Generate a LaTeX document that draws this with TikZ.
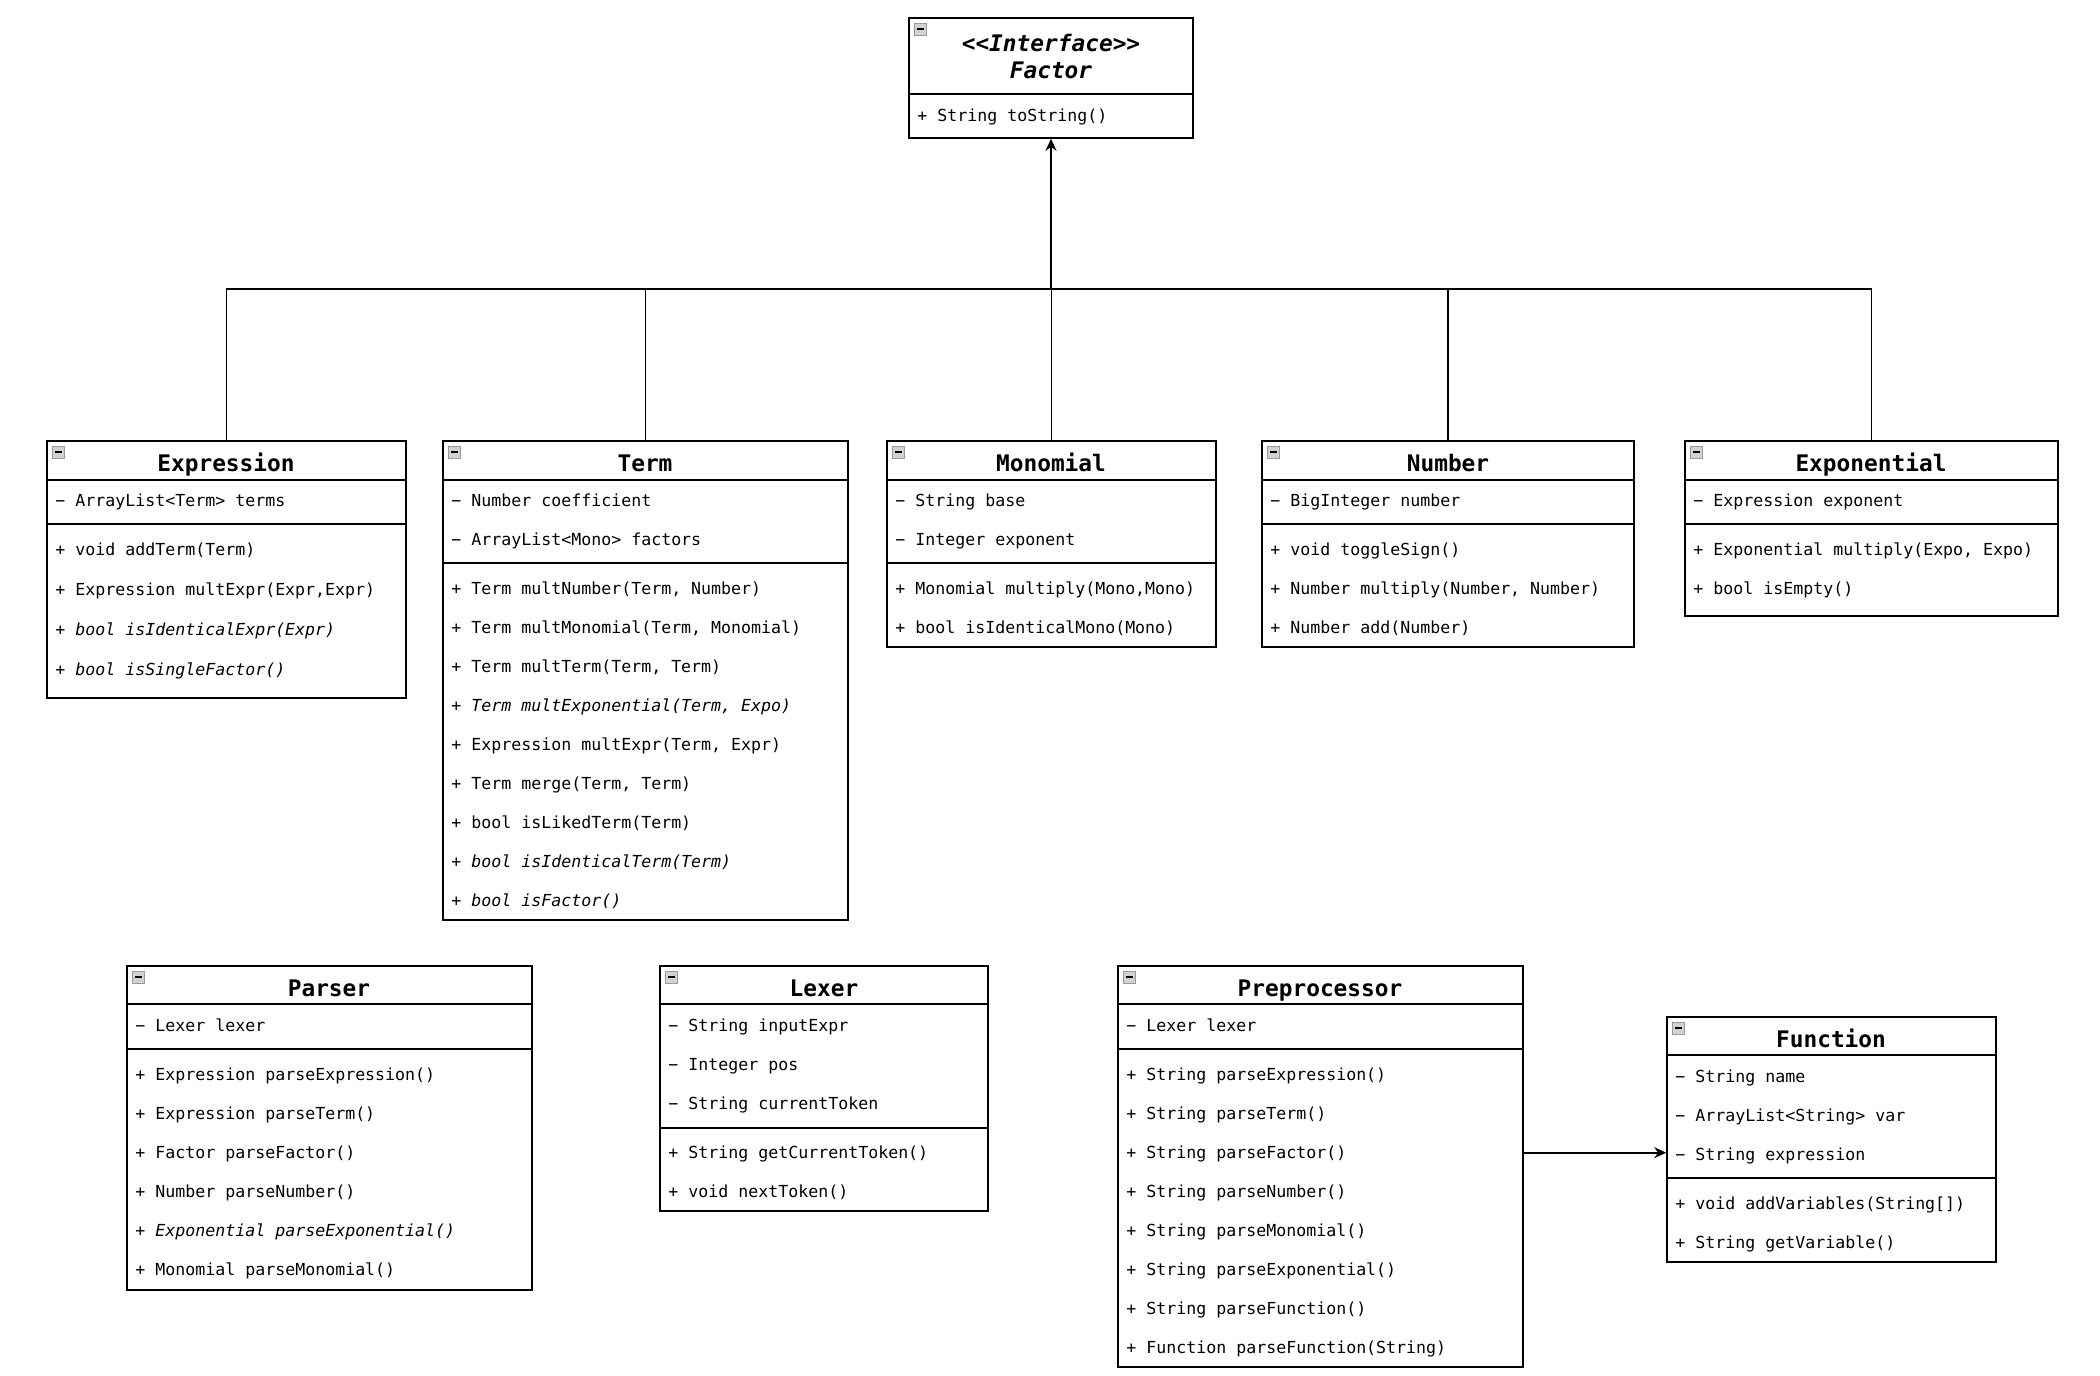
\documentclass[tikz,border=0pt]{standalone}
\usepackage{fontspec}
\setmonofont{DejaVu Sans Mono}
\usetikzlibrary{fit, arrows.meta}

\tikzset{
  classbox/.style={draw, line width=0.8pt, inner sep=0pt},
  classname/.style={font=\ttfamily\fontsize{11.4}{13}\selectfont\bfseries, anchor=base, inner sep=0pt},
  member/.style={font=\ttfamily\fontsize{8.3}{10}\selectfont, anchor=base west, inner sep=0pt},
  divider/.style={line width=0.8pt},
  link/.style={line width=0.9pt},
  inherit/.style={link, -{Stealth[length=6pt,width=5.5pt]}},
}

\begin{document}
\begin{tikzpicture}[x=0.5pt, y=-0.5pt]
    \path[fill=white] (0,0) rectangle (2100,1376);
    \useasboundingbox (0,0) rectangle (2100,1376);

    % Factor (interface, top)
    \node[classbox, fit={(909,18) (1193,138)}] (factor) {};
    \node[classname, font=\ttfamily\fontsize{11.4}{13}\selectfont\bfseries\itshape] (factor-stereo) at (1051,51) {<<Interface>>};
    \node[classname, font=\ttfamily\fontsize{11.4}{13}\selectfont\bfseries\itshape] (factor-name) at (1051,78) {Factor};
    \draw[divider] (909,94) -- (1193,94);
    \node[member] (factor-m1) at (917,121) {+ String toString()};

    % Expression
    \node[classbox, fit={(47,441) (406,698)}] (expr) {};
    \node[classname] (expr-name) at (226,471) {Expression};
    \draw[divider] (47,480) -- (406,480) (47,524) -- (406,524);
    \node[member] (expr-a1) at (55,506) {− ArrayList<Term> terms};
    \foreach \m [count=\i] in {{+ void addTerm(Term)}, {+ Expression multExpr(Expr,Expr)},
        {\itshape + bool isIdenticalExpr(Expr)}, {\itshape + bool isSingleFactor()}}
      \node[member] (expr-m\i) at (55,{555+40*(\i-1)}) {\m};

    % Term
    \node[classbox, fit={(443,441) (848,920)}] (term) {};
    \node[classname] (term-name) at (645,471) {Term};
    \draw[divider] (443,480) -- (848,480) (443,563) -- (848,563);
    \foreach \a [count=\i] in {{− Number coefficient}, {− ArrayList<Mono> factors}}
      \node[member] (term-a\i) at (451,{506+39*(\i-1)}) {\a};
    \foreach \m [count=\i] in {{+ Term multNumber(Term, Number)}, {+ Term multMonomial(Term, Monomial)},
        {+ Term multTerm(Term, Term)}, {\itshape + Term multExponential(Term, Expo)},
        {+ Expression multExpr(Term, Expr)}, {+ Term merge(Term, Term)}, {+ bool isLikedTerm(Term)},
        {\itshape + bool isIdenticalTerm(Term)}, {\itshape + bool isFactor()}}
      \node[member] (term-m\i) at (451,{594+39*(\i-1)}) {\m};

    % Monomial
    \node[classbox, fit={(887,441) (1216,647)}] (mono) {};
    \node[classname] (mono-name) at (1051,471) {Monomial};
    \draw[divider] (887,480) -- (1216,480) (887,563) -- (1216,563);
    \foreach \a [count=\i] in {{− String base}, {− Integer exponent}}
      \node[member] (mono-a\i) at (895,{506+39*(\i-1)}) {\a};
    \foreach \m [count=\i] in {{+ Monomial multiply(Mono,Mono)}, {+ bool isIdenticalMono(Mono)}}
      \node[member] (mono-m\i) at (895,{594+39*(\i-1)}) {\m};

    % Number
    \node[classbox, fit={(1262,441) (1634,647)}] (num) {};
    \node[classname] (num-name) at (1448,471) {Number};
    \draw[divider] (1262,480) -- (1634,480) (1262,524) -- (1634,524);
    \node[member] (num-a1) at (1270,506) {− BigInteger number};
    \foreach \m [count=\i] in {{+ void toggleSign()}, {+ Number multiply(Number, Number)}, {+ Number add(Number)}}
      \node[member] (num-m\i) at (1270,{555+39*(\i-1)}) {\m};

    % Exponential
    \node[classbox, fit={(1685,441) (2058,616)}] (expo) {};
    \node[classname] (expo-name) at (1871,471) {Exponential};
    \draw[divider] (1685,480) -- (2058,480) (1685,524) -- (2058,524);
    \node[member] (expo-a1) at (1693,506) {− Expression exponent};
    \foreach \m [count=\i] in {{+ Exponential multiply(Expo, Expo)}, {+ bool isEmpty()}}
      \node[member] (expo-m\i) at (1693,{555+39*(\i-1)}) {\m};

    % Parser
    \node[classbox, fit={(127,966) (532,1290)}] (parser) {};
    \node[classname] (parser-name) at (329,996) {Parser};
    \draw[divider] (127,1004) -- (532,1004) (127,1049) -- (532,1049);
    \node[member] (parser-a1) at (135,1031) {− Lexer lexer};
    \foreach \m [count=\i] in {{+ Expression parseExpression()}, {+ Expression parseTerm()},
        {+ Factor parseFactor()}, {+ Number parseNumber()},
        {\itshape + Exponential parseExponential()}, {+ Monomial parseMonomial()}}
      \node[member] (parser-m\i) at (135,{1080+39*(\i-1)}) {\m};

    % Lexer
    \node[classbox, fit={(660,966) (988,1211)}] (lexer) {};
    \node[classname] (lexer-name) at (824,996) {Lexer};
    \draw[divider] (660,1004) -- (988,1004) (660,1128) -- (988,1128);
    \foreach \a [count=\i] in {{− String inputExpr}, {− Integer pos}, {− String currentToken}}
      \node[member] (lexer-a\i) at (668,{1031+39*(\i-1)}) {\a};
    \foreach \m [count=\i] in {{+ String getCurrentToken()}, {+ void nextToken()}}
      \node[member] (lexer-m\i) at (668,{1158+39*(\i-1)}) {\m};

    % Preprocessor
    \node[classbox, fit={(1118,966) (1523,1367)}] (prep) {};
    \node[classname] (prep-name) at (1320,996) {Preprocessor};
    \draw[divider] (1118,1004) -- (1523,1004) (1118,1049) -- (1523,1049);
    \node[member] (prep-a1) at (1126,1031) {− Lexer lexer};
    \foreach \m [count=\i] in {{+ String parseExpression()}, {+ String parseTerm()},
        {+ String parseFactor()}, {+ String parseNumber()}, {+ String parseMonomial()},
        {+ String parseExponential()}, {+ String parseFunction()}, {+ Function parseFunction(String)}}
      \node[member] (prep-m\i) at (1126,{1080+39*(\i-1)}) {\m};

    % Function
    \node[classbox, fit={(1667,1017) (1996,1262)}] (func) {};
    \node[classname] (func-name) at (1831,1047) {Function};
    \draw[divider] (1667,1055) -- (1996,1055) (1667,1178) -- (1996,1178);
    \foreach \a [count=\i] in {{− String name}, {− ArrayList<String> var}, {− String expression}}
      \node[member] (func-a\i) at (1675,{1082+39*(\i-1)}) {\a};
    \foreach \m [count=\i] in {{+ void addVariables(String[])}, {+ String getVariable()}}
      \node[member] (func-m\i) at (1675,{1209+39*(\i-1)}) {\m};

    % collapse icons
    \foreach \c in {factor,expr,term,mono,num,expo,parser,lexer,prep,func} {
      \draw[fill=gray!35, draw=gray!80, line width=0.5pt] ([shift={(6,6)}]\c.north west) rectangle +(12,12);
      \draw[line width=1pt] ([shift={(8.5,12)}]\c.north west) -- +(7,0);
    }

    % inheritance
    \coordinate (bus) at (1051,289);
    \foreach \c in {expr,term,mono,num,expo}
      \draw[link] (\c.north) |- (bus);
    \draw[inherit] (bus) -- (factor.south);

    % Preprocessor -> Function
    \draw[inherit] ([yshift=1.5pt]prep.east |- func-a3.mid) -- ([yshift=1.5pt]func.west |- func-a3.mid);
\end{tikzpicture}
\end{document}
